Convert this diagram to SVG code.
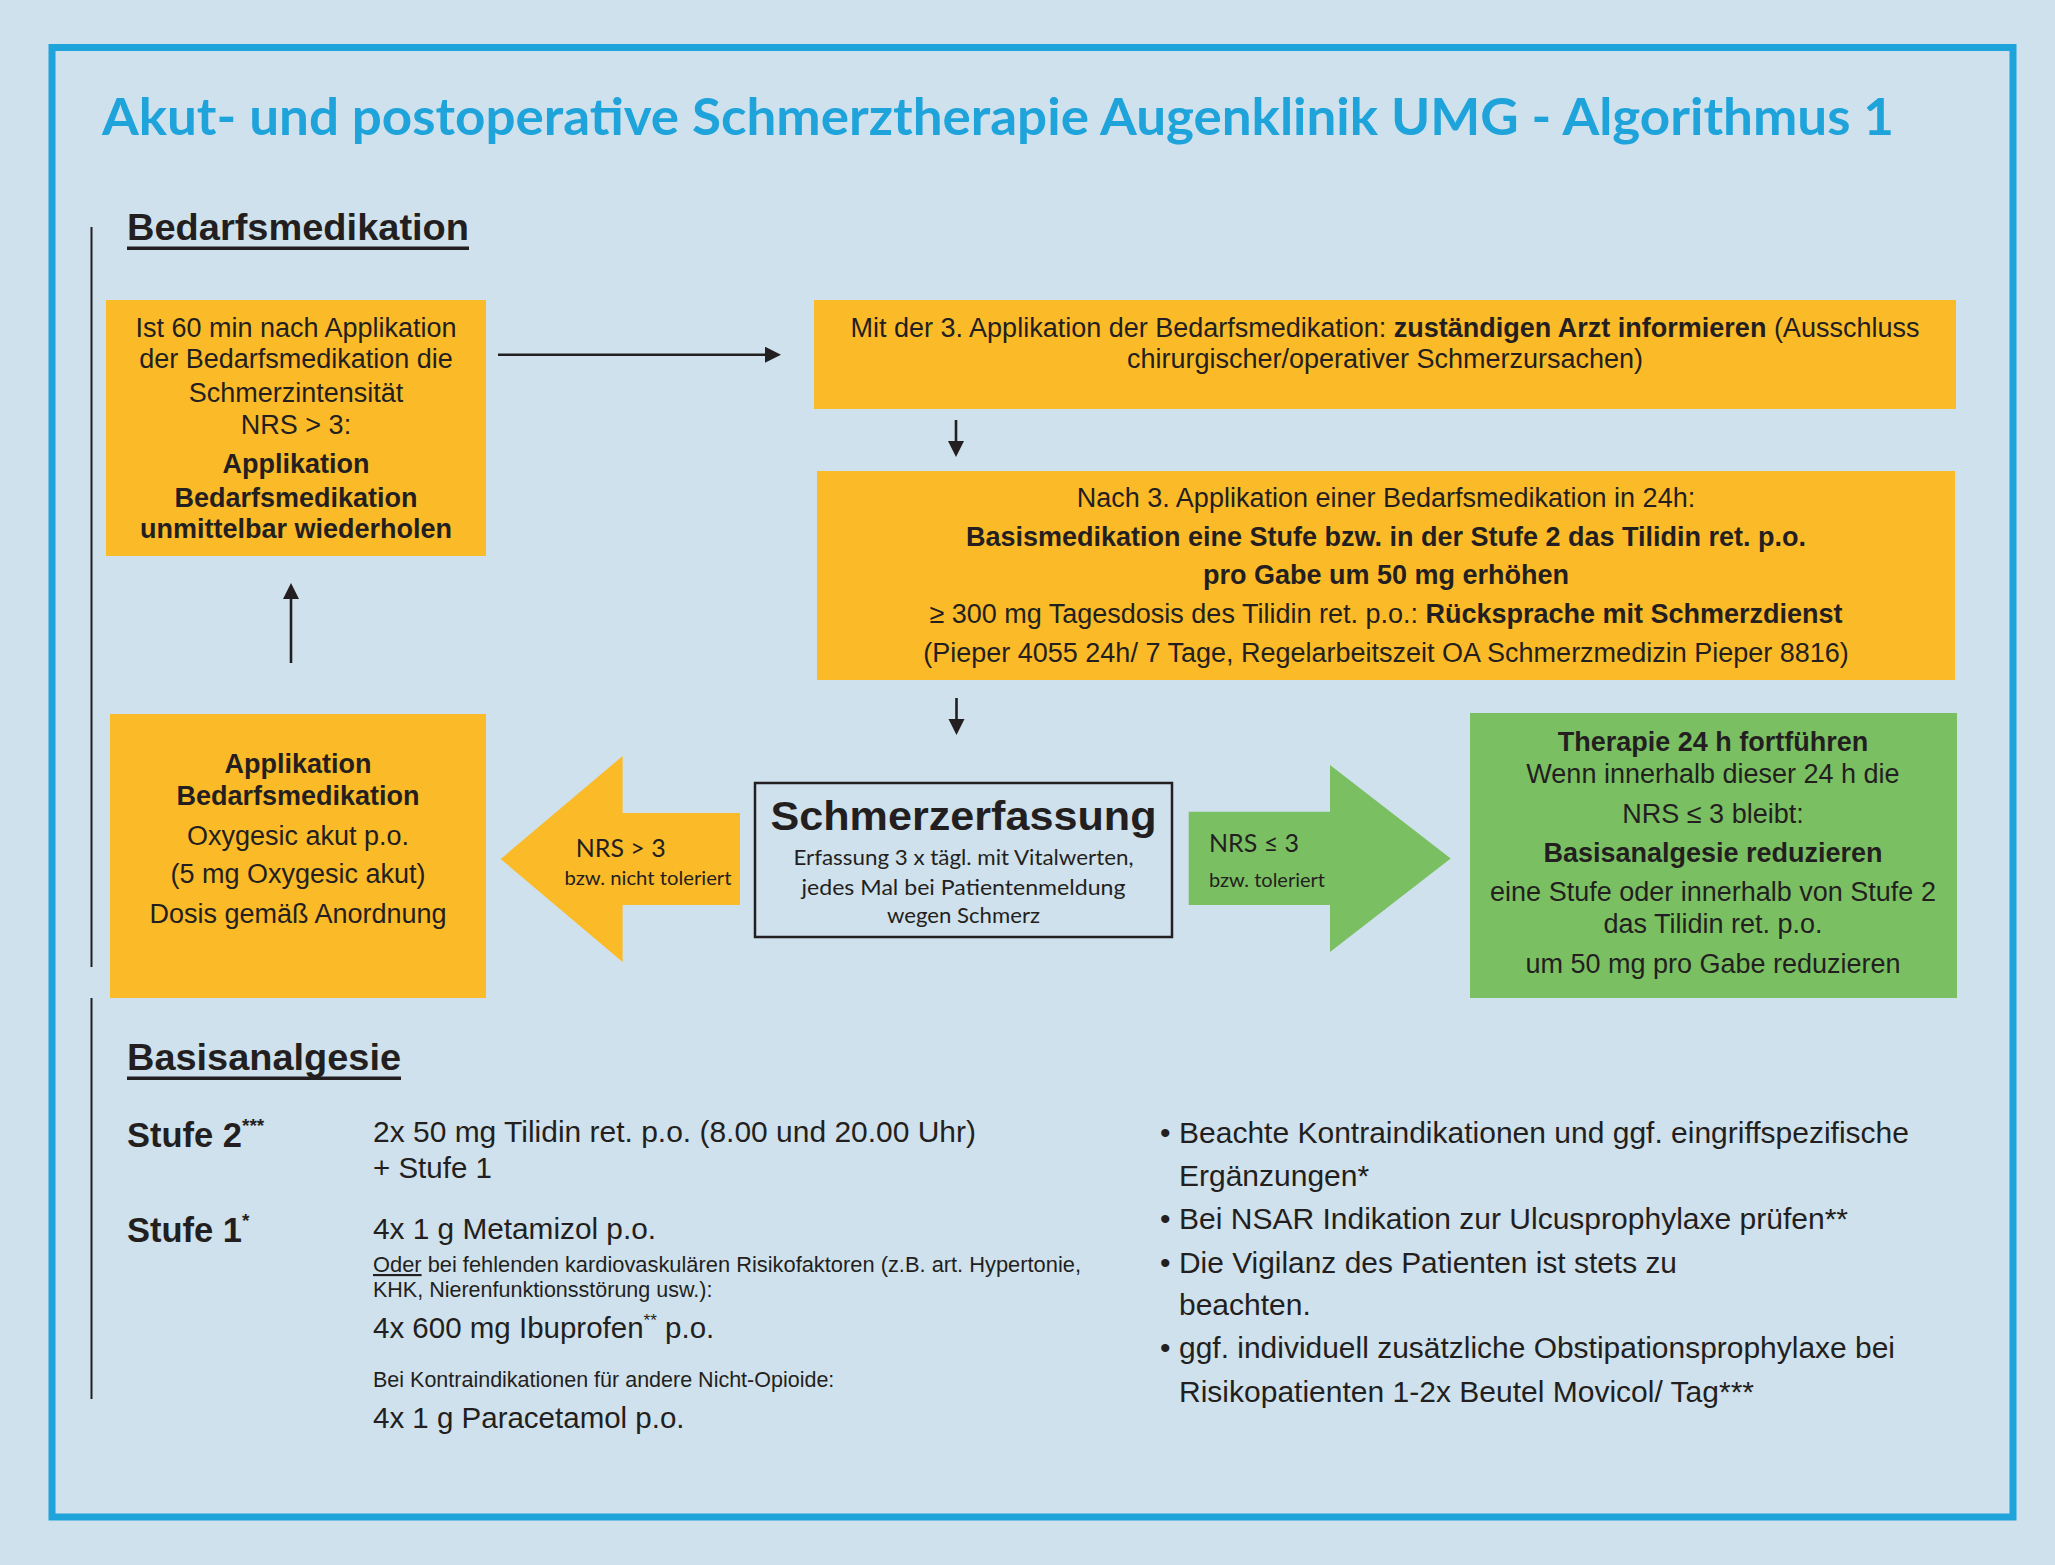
<svg xmlns="http://www.w3.org/2000/svg" width="2055" height="1565" viewBox="0 0 2055 1565">
<defs>
<style>
.bg{fill:#CFE1EC}
.frame{fill:none;stroke:#1FA3DB;stroke-width:7}
.ybox{fill:#FBBA27}
.gbox{fill:#7ABF62}
.t{font-family:"Liberation Sans",Arial,sans-serif;fill:#231F20}
.c{font-family:Lato,"Liberation Sans",sans-serif;fill:#231F20}
.b{font-weight:bold}
.mid{text-anchor:middle}
.box27{font-size:27px}
.sec{font-size:37.5px;font-weight:bold}
.body{font-size:29.5px}
.small{font-size:21.5px}
.bul{font-size:30px}
.conn{stroke:#231F20;stroke-width:2.6;fill:none}
.rule{stroke:#231F20;stroke-width:2}
</style>
<marker id="ah" markerUnits="userSpaceOnUse" markerWidth="17" markerHeight="17" refX="0" refY="8" orient="auto">
<path d="M0,0 L16,8 L0,16 z" fill="#231F20"/>
</marker>
</defs>
<rect class="bg" x="0" y="0" width="2055" height="1565"/>
<rect class="frame" x="52" y="47.5" width="1961" height="1469.5"/>

<text x="102" y="135" font-family="Lato,'Liberation Sans',sans-serif" font-weight="bold" font-size="52" fill="#1FA3DB" textLength="1792" lengthAdjust="spacingAndGlyphs">Akut- und postoperative Schmerztherapie Augenklinik UMG - Algorithmus 1</text>

<line class="rule" x1="91.5" y1="227" x2="91.5" y2="967"/>
<line class="rule" x1="91.5" y1="998" x2="91.5" y2="1399"/>

<g id="heading-bedarf">
<text class="t sec" x="127" y="240" textLength="342" lengthAdjust="spacingAndGlyphs">Bedarfsmedikation</text>
<rect x="127" y="246.5" width="342" height="3.5" fill="#231F20"/>
</g>

<g id="box-wiederholen">
<rect class="ybox" x="106" y="300" width="380" height="256"/>
<text class="t box27 mid" x="296" y="337">Ist 60 min nach Applikation</text>
<text class="t box27 mid" x="296" y="368">der Bedarfsmedikation die</text>
<text class="t box27 mid" x="296" y="402">Schmerzintensität</text>
<text class="t box27 mid" x="296" y="434">NRS &gt; 3:</text>
<text class="t box27 mid b" x="296" y="473">Applikation</text>
<text class="t box27 mid b" x="296" y="507">Bedarfsmedikation</text>
<text class="t box27 mid b" x="296" y="538">unmittelbar wiederholen</text>
</g>

<g id="box-arzt">
<rect class="ybox" x="814" y="300" width="1142" height="109"/>
<text class="t box27 mid" x="1385" y="337">Mit der 3. Applikation der Bedarfsmedikation: <tspan class="b">zuständigen Arzt informieren</tspan> (Ausschluss</text>
<text class="t box27 mid" x="1385" y="368">chirurgischer/operativer Schmerzursachen)</text>
</g>

<g id="box-stufe-erhoehen">
<rect class="ybox" x="817" y="471" width="1138" height="209"/>
<text class="t box27 mid" x="1386" y="507">Nach 3. Applikation einer Bedarfsmedikation in 24h:</text>
<text class="t box27 mid b" x="1386" y="546">Basismedikation eine Stufe bzw. in der Stufe 2 das Tilidin ret.  p.o.</text>
<text class="t box27 mid b" x="1386" y="584">pro Gabe um 50 mg erhöhen</text>
<text class="t box27 mid" x="1386" y="623">≥ 300 mg Tagesdosis des Tilidin ret. p.o.: <tspan class="b">Rücksprache mit Schmerzdienst</tspan></text>
<text class="t box27 mid" x="1386" y="662">(Pieper 4055 24h/ 7 Tage, Regelarbeitszeit OA Schmerzmedizin Pieper 8816)</text>
</g>

<g id="box-applikation">
<rect class="ybox" x="110" y="714" width="376" height="284"/>
<text class="t box27 mid b" x="298" y="773">Applikation</text>
<text class="t box27 mid b" x="298" y="805">Bedarfsmedikation</text>
<text class="t box27 mid" x="298" y="845">Oxygesic akut p.o.</text>
<text class="t box27 mid" x="298" y="883">(5 mg Oxygesic akut)</text>
<text class="t box27 mid" x="298" y="923">Dosis gemäß Anordnung</text>
</g>

<g id="arrow-nrs-gt3">
<polygon class="ybox" points="500.7,859 622.6,756 622.6,813 740,813 740,905 622.6,905 622.6,962"/>
<text class="c" x="575.7" y="857" font-size="25" textLength="90" lengthAdjust="spacingAndGlyphs">NRS &gt; 3</text>
<text class="c" x="564.5" y="885" font-size="19" textLength="167" lengthAdjust="spacingAndGlyphs">bzw. nicht toleriert</text>
</g>

<g id="box-schmerzerfassung">
<rect x="755" y="783" width="417" height="154" fill="none" stroke="#231F20" stroke-width="2.5"/>
<text class="t b mid" x="963.5" y="830" font-size="41" textLength="386" lengthAdjust="spacingAndGlyphs">Schmerzerfassung</text>
<text class="c mid" x="963.5" y="865" font-size="21" textLength="340" lengthAdjust="spacingAndGlyphs">Erfassung 3 x tägl. mit Vitalwerten,</text>
<text class="c mid" x="963.5" y="895" font-size="21" textLength="324" lengthAdjust="spacingAndGlyphs">jedes Mal bei Patientenmeldung</text>
<text class="c mid" x="963.5" y="923" font-size="21" textLength="153" lengthAdjust="spacingAndGlyphs">wegen Schmerz</text>
</g>

<g id="arrow-nrs-le3">
<polygon class="gbox" points="1188.7,811.7 1330,811.7 1330,765 1450.7,858.5 1330,952 1330,905 1188.7,905"/>
<text class="c" x="1209" y="852" font-size="25" textLength="90" lengthAdjust="spacingAndGlyphs">NRS ≤ 3</text>
<text class="c" x="1209" y="887" font-size="19" textLength="116" lengthAdjust="spacingAndGlyphs">bzw. toleriert</text>
</g>

<g id="box-fortfuehren">
<rect class="gbox" x="1470" y="713" width="487" height="285"/>
<text class="t box27 mid b" x="1713" y="751">Therapie 24 h fortführen</text>
<text class="t box27 mid" x="1713" y="783">Wenn innerhalb dieser 24 h die</text>
<text class="t box27 mid" x="1713" y="823">NRS ≤ 3 bleibt:</text>
<text class="t box27 mid b" x="1713" y="862">Basisanalgesie reduzieren</text>
<text class="t box27 mid" x="1713" y="901">eine Stufe oder innerhalb von Stufe 2</text>
<text class="t box27 mid" x="1713" y="933">das Tilidin ret. p.o.</text>
<text class="t box27 mid" x="1713" y="973">um 50 mg pro Gabe reduzieren</text>
</g>

<g id="connectors">
<line class="conn" x1="498" y1="354.7" x2="765" y2="354.7" marker-end="url(#ah)"/>
<line class="conn" x1="956" y1="420" x2="956" y2="441" marker-end="url(#ah)"/>
<line class="conn" x1="956.5" y1="698" x2="956.5" y2="719" marker-end="url(#ah)"/>
<line class="conn" x1="291" y1="663" x2="291" y2="599" marker-end="url(#ah)"/>
</g>

<g id="heading-basis">
<text class="t sec" x="127" y="1070" textLength="274" lengthAdjust="spacingAndGlyphs">Basisanalgesie</text>
<rect x="127" y="1076.5" width="274" height="3.5" fill="#231F20"/>
</g>

<g id="stufen">
<text class="t b" x="127" y="1147" font-size="34.5">Stufe 2<tspan font-size="19" dy="-15">***</tspan></text>
<text class="t body" x="373" y="1142" textLength="603" lengthAdjust="spacingAndGlyphs">2x 50 mg Tilidin ret. p.o. (8.00 und 20.00 Uhr)</text>
<text class="t body" x="373" y="1178">+ Stufe 1</text>
<text class="t b" x="127" y="1242" font-size="34.5">Stufe 1<tspan font-size="19" dy="-15">*</tspan></text>
<text class="t body" x="373" y="1239" textLength="283" lengthAdjust="spacingAndGlyphs">4x 1 g Metamizol p.o.</text>
<text class="t small" x="373" y="1272" textLength="708" lengthAdjust="spacingAndGlyphs"><tspan text-decoration="underline">Oder</tspan> bei fehlenden kardiovaskulären Risikofaktoren (z.B. art. Hypertonie,</text>
<text class="t small" x="373" y="1297">KHK, Nierenfunktionsstörung usw.):</text>
<text class="t body" x="373" y="1338">4x 600 mg Ibuprofen<tspan font-size="17" dy="-12">**</tspan><tspan dy="12"> p.o.</tspan></text>
<text class="t small" x="373" y="1387">Bei Kontraindikationen für andere Nicht-Opioide:</text>
<text class="t body" x="373" y="1428">4x 1 g Paracetamol p.o.</text>
</g>

<g id="hinweise">
<text class="t bul" x="1160" y="1143">•</text>
<text class="t bul" x="1179" y="1143" textLength="730" lengthAdjust="spacingAndGlyphs">Beachte Kontraindikationen und ggf. eingriffspezifische</text>
<text class="t bul" x="1179" y="1186">Ergänzungen*</text>
<text class="t bul" x="1160" y="1229">•</text>
<text class="t bul" x="1179" y="1229" textLength="669" lengthAdjust="spacingAndGlyphs">Bei NSAR Indikation zur Ulcusprophylaxe prüfen**</text>
<text class="t bul" x="1160" y="1273">•</text>
<text class="t bul" x="1179" y="1273" textLength="498" lengthAdjust="spacingAndGlyphs">Die Vigilanz des Patienten ist stets zu</text>
<text class="t bul" x="1179" y="1315">beachten.</text>
<text class="t bul" x="1160" y="1358">•</text>
<text class="t bul" x="1179" y="1358" textLength="716" lengthAdjust="spacingAndGlyphs">ggf. individuell zusätzliche Obstipationsprophylaxe bei</text>
<text class="t bul" x="1179" y="1402" textLength="575" lengthAdjust="spacingAndGlyphs">Risikopatienten 1-2x Beutel Movicol/ Tag***</text>
</g>
</svg>
